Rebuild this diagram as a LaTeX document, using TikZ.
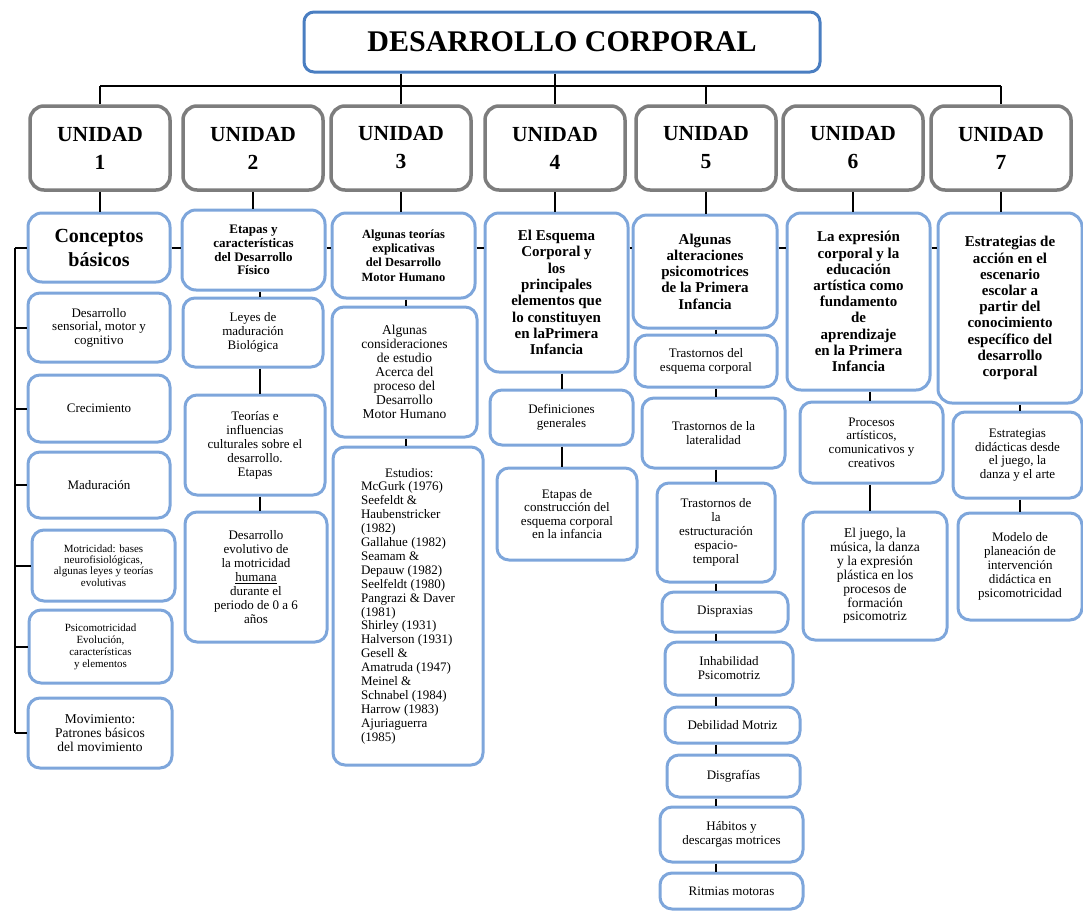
\documentclass[tikz,border=0pt]{standalone}
\usepackage{fontspec}
\setmainfont{Liberation Serif}
\usepackage{tikz}
\usetikzlibrary{positioning, calc}

\definecolor{boxblue}{RGB}{126,166,219}
\definecolor{titleblue}{RGB}{74,126,193}
\definecolor{unitgray}{RGB}{125,125,125}

\tikzset{
	titlebox/.style={draw=titleblue, line width=3pt, rounded corners=10pt, font=\fontsize{30}{34}\selectfont\bfseries, minimum width=516, minimum height=60},
	unitbox/.style={draw=unitgray, line width=3.5pt, rounded corners=14pt, align=center, font=\fontsize{21.5}{28}\selectfont\bfseries, minimum width=140, minimum height=84},
	topicbox/.style={draw=boxblue, line width=3pt, rounded corners=14pt, align=center, inner sep=2pt},
	leafbox/.style={draw=boxblue, line width=3pt, rounded corners=12pt, align=center, inner sep=2pt, font=\fontsize{13}{14}\selectfont},
	wh/.style 2 args={minimum width=#1, minimum height=#2},
	link/.style={line width=2pt, black},
}

\begin{document}
\begin{tikzpicture}[x=1pt, y=-1pt]
			\useasboundingbox (0,0) rectangle (1083,911);
			\node[titlebox] (title) at (562,42) {DESARROLLO CORPORAL};
			\foreach \n/\x in {1/100,2/253,3/401,4/555,5/706,6/853,7/1001}
				\node[unitbox] (u\n) at (\x,148) {UNIDAD\\\n};
			\node[topicbox, wh={142}{69}, font=\fontsize{20}{24}\selectfont\bfseries] (t1) at (99,247.5) {Conceptos\\básicos};
			\node[topicbox, wh={143}{80}, font=\fontsize{13}{13.7}\selectfont\bfseries] (t2) at (253.5,250) {Etapas y\\características\\del Desarrollo\\Físico};
			\node[topicbox, wh={143}{85}, font=\fontsize{12.5}{14.3}\selectfont\bfseries] (t3) at (403.5,255.5) {Algunas teorías\\explicativas\\del Desarrollo\\Motor Humano};
			\node[topicbox, wh={143}{159}, font=\fontsize{15}{16.3}\selectfont\bfseries] (t4) at (556.5,292.5) {El Esquema\\Corporal y\\los\\principales\\elementos que\\lo constituyen\\en laPrimera\\Infancia};
			\node[topicbox, wh={144}{113}, font=\fontsize{15}{16.3}\selectfont\bfseries] (t5) at (705,271.5) {Algunas\\alteraciones\\psicomotrices\\de la Primera\\Infancia};
			\node[topicbox, wh={143}{177}, font=\fontsize{15}{16.2}\selectfont\bfseries] (t6) at (858.5,301.5) {La expresión\\corporal y la\\educación\\artística como\\fundamento\\de\\aprendizaje\\en la Primera\\Infancia};
			\node[topicbox, wh={144}{190}, font=\fontsize{15}{16.2}\selectfont\bfseries] (t7) at (1010,308) {Estrategias de\\acción en el\\escenario\\escolar a\\partir del\\conocimiento\\específico del\\desarrollo\\corporal};
			\node[leafbox, wh={142}{69}, font=\fontsize{13}{13.5}\selectfont] (c1a) at (99,327.5) {Desarrollo\\sensorial, motor y\\cognitivo};
			\node[leafbox, wh={142}{67}] (c1b) at (99,408.5) {Crecimiento};
			\node[leafbox, wh={142}{66}] (c1c) at (99,485) {Maduración};
			\node[leafbox, wh={143}{71}, font=\fontsize{11}{11.3}\selectfont] (c1d) at (103.5,565.5) {Motricidad: bases\\neurofisiológicas,\\algunas leyes y teorías\\evolutivas};
			\node[leafbox, wh={143}{73}, font=\fontsize{11}{12}\selectfont] (c1e) at (100.5,646.5) {Psicomotricidad\\Evolución,\\características\\y elementos};
			\node[leafbox, wh={144}{70}, font=\fontsize{13.5}{14}\selectfont] (c1f) at (100,733) {Movimiento:\\Patrones básicos\\del movimiento};
			\node[leafbox, wh={140}{69}] (c2a) at (253,332.5) {Leyes de\\maduración\\Biológica};
			\node[leafbox, wh={140}{100}] (c2b) at (255,445) {Teorías e\\influencias\\culturales sobre el\\desarrollo.\\Etapas};
			\node[leafbox, wh={142}{130}] (c2c) at (256,577) {Desarrollo\\evolutivo de\\la motricidad\\\underline{humana}\\durante el\\periodo de 0 a 6\\años};
			\node[leafbox, wh={145}{130}, font=\fontsize{13.5}{14}\selectfont] (c3a) at (404.5,372) {Algunas\\consideraciones\\de estudio\\Acerca del\\proceso del\\Desarrollo\\Motor Humano};
			\node[leafbox, wh={150}{318}, align=left, font=\fontsize{13}{13.9}\selectfont] (c3b) at (408,606) {\hspace*{24pt}Estudios:\\McGurk (1976)\\Seefeldt \&\\Haubenstricker\\(1982)\\Gallahue (1982)\\Seamam \&\\Depauw (1982)\\Seelfeldt (1980)\\Pangrazi \& Daver\\(1981)\\Shirley (1931)\\Halverson (1931)\\Gesell \&\\Amatruda (1947)\\Meinel \&\\Schnabel (1984)\\Harrow (1983)\\Ajuriaguerra\\(1985)};
			\node[leafbox, wh={143}{55}] (c4a) at (561.5,417.5) {Definiciones\\generales};
			\node[leafbox, wh={140}{92}, font=\fontsize{13}{13.5}\selectfont] (c4b) at (567,514) {Etapas de\\construcción del\\esquema corporal\\en la infancia};
			\node[leafbox, wh={142}{52}] (c5a) at (706,361) {Trastornos del\\esquema corporal};
			\node[leafbox, wh={143}{70}] (c5b) at (713.5,433) {Trastornos de la\\lateralidad};
			\node[leafbox, wh={118}{99}] (c5c) at (716,532.5) {Trastornos de\\la\\estructuración\\espacio-\\temporal};
			\node[leafbox, wh={126}{40}] (c5d) at (725,612) {Dispraxias};
			\node[leafbox, wh={128}{53}] (c5e) at (729,668.5) {Inhabilidad\\Psicomotriz};
			\node[leafbox, wh={135}{36}] (c5f) at (732.5,725) {Debilidad Motriz};
			\node[leafbox, wh={133}{42}] (c5g) at (733.5,776) {Disgrafías};
			\node[leafbox, wh={143}{55}] (c5h) at (731.5,834.5) {Hábitos y\\descargas motrices};
			\node[leafbox, wh={143}{36}] (c5i) at (731.5,891) {Ritmias motoras};
			\node[leafbox, wh={143}{81}, font=\fontsize{13}{13.6}\selectfont] (c6a) at (871.5,442.5) {Procesos\\artísticos,\\comunicativos y\\creativos};
			\node[leafbox, wh={144}{128}, font=\fontsize{13.5}{13.9}\selectfont] (c6b) at (875,576) {El juego, la\\música, la danza\\y la expresión\\plástica en los\\procesos de\\formación\\psicomotriz};
			\node[leafbox, wh={129}{86}, font=\fontsize{13}{13.7}\selectfont] (c7a) at (1017.5,455) {Estrategias\\didácticas desde\\el juego, la\\danza y el arte};
			\node[leafbox, wh={124}{107}, font=\fontsize{13}{13.9}\selectfont] (c7b) at (1020,566.5) {Modelo de\\planeación de\\intervención\\didáctica en\\psicomotricidad};
			\coordinate (bus) at (0,86);
			\coordinate (chain) at (0,248);
			\coordinate (spine) at (15,0);
			\coordinate (k2) at (260,0);
			\coordinate (k3) at (406,0);
			\coordinate (k4) at (562,0);
			\coordinate (k5) at (716,0);
			\coordinate (k6) at (870,0);
			\coordinate (k7) at (1020,0);
			\draw[link] (u1.north |- bus) -- (u7.north |- bus);
			\foreach \n in {1,5,7}
				\draw[link] (u\n.north |- bus) -- (u\n.north);
			\foreach \n in {3,4}
				\draw[link] (title.south -| u\n.north) -- (u\n.north);
			\foreach \n in {1,...,7}
				\draw[link] (u\n.south) -- (u\n.south |- t\n.north);
			\foreach \a/\b in {1/2,2/3,3/4,4/5,5/6,6/7}
				\draw[link] (t\a.east |- chain) -- (t\b.west |- chain);
			\draw[link] (spine |- t1.west) -- (spine |- c1f.west);
			\foreach \b in {t1,c1a,c1b,c1c,c1d,c1e,c1f}
				\draw[link] (spine |- \b.west) -- (\b.west);
			\foreach \a/\b in {t2/c2a,c2a/c2b,c2b/c2c}
				\draw[link] (k2 |- \a.south) -- (k2 |- \b.north);
			\draw[link] (k3 |- t3.south) -- (k3 |- c3a.north);
			\draw[link] (k3 |- c3a.south) -- (k3 |- c3b.north);
			\draw[link] (k4 |- t4.south) -- (k4 |- c4a.north);
			\draw[link] (k4 |- c4a.south) -- (k4 |- c4b.north);
			\foreach \a/\b in {t5/c5a,c5a/c5b,c5b/c5c,c5c/c5d,c5d/c5e,c5e/c5f,c5f/c5g,c5g/c5h,c5h/c5i}
				\draw[link] (k5 |- \a.south) -- (k5 |- \b.north);
			\draw[link] (k6 |- t6.south) -- (k6 |- c6a.north);
			\draw[link] (k6 |- c6a.south) -- (k6 |- c6b.north);
			\draw[link] (k7 |- t7.south) -- (k7 |- c7a.north);
			\draw[link] (k7 |- c7a.south) -- (k7 |- c7b.north);
		\end{tikzpicture}
\end{document}
